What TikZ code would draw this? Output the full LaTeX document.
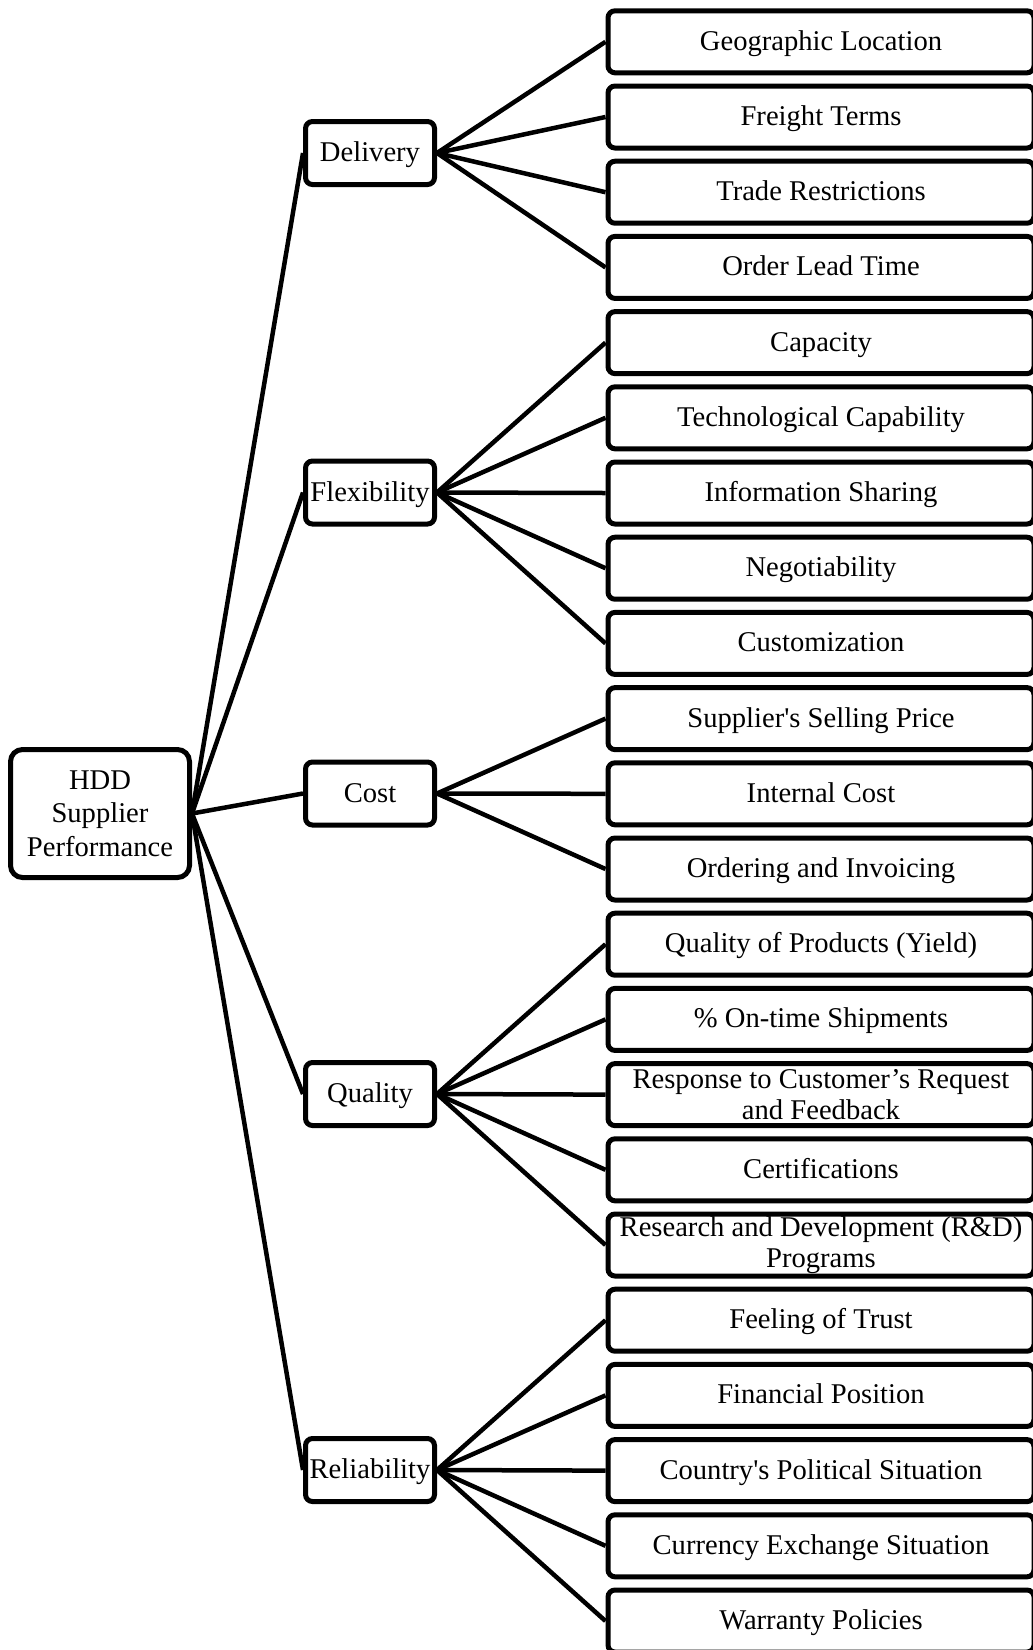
\documentclass[tikz,border=0pt]{standalone}
\usepackage{fontspec}
\newfontfamily\rfont{Liberation Serif}
\begin{document}
\begin{tikzpicture}[x=1pt,y=-1pt,
  box/.style={draw, line width=5pt, inner sep=0pt, align=center, fill=white,
    font=\rfont\fontsize{28.6}{30.5}\selectfont,
    execute at begin node={\rule{0pt}{24pt}}},
  sline/.style={execute at end node={\rule[-7pt]{0pt}{0pt}}},
  leaf/.style={box, rounded corners=7pt, minimum width=426pt, minimum height=62pt},
  mid/.style={box, sline, rounded corners=7pt, minimum width=129pt, minimum height=63pt},
  rootbox/.style={box, rounded corners=12pt, minimum width=179pt, minimum height=128pt,
    font=\rfont\fontsize{28.6}{33.5}\selectfont,
    execute at begin node={\rule{0pt}{30pt}}},
  link/.style={line width=4.5pt, line join=round}]
\useasboundingbox (0,0) rectangle (1033,1650);
\clip (0,0) rectangle (1033,1650);
% root
\node[rootbox] (root) at (100,813.5) {HDD\\Supplier\\Performance};
% middle
\node[mid] (del) at (370,153) {Delivery};
\node[mid] (flx) at (370,492.5) {Flexibility};
\node[mid] (cst) at (370,793.5) {Cost};
\node[mid] (qua) at (370,1094) {Quality};
\node[mid] (rel) at (370,1470) {Reliability};
% leaves (single line)
\foreach \i/\t in {1/Geographic Location, 2/Freight Terms, 3/Trade Restrictions,
  4/Order Lead Time, 5/Capacity, 6/Technological Capability, 7/Information Sharing,
  8/Negotiability, 9/Customization, 10/Supplier's Selling Price, 11/Internal Cost,
  12/Ordering and Invoicing, 13/Quality of Products (Yield), 14/\% On-time Shipments,
  16/Certifications, 18/Feeling of Trust,
  19/Financial Position, 20/Country's Political Situation,
  21/Currency Exchange Situation, 22/Warranty Policies}
  \node[leaf, sline] (l\i) at (821,{41.8+75.2*(\i-1)}) {\t};
% leaves (two lines)
\node[leaf] (l15) at (821,{41.8+75.2*14}) {Response to Customer’s Request\\and Feedback};
\node[leaf] (l17) at (821,{41.8+75.2*16}) {Research and Development (R\&D)\\Programs};
% root links
\foreach \m in {del,flx,cst,qua,rel}
  \draw[link] (root.east) -- (\m.west);
% middle links
\foreach \i in {1,...,4} \draw[link] (del.east) -- (l\i.west);
\foreach \i in {5,...,9} \draw[link] (flx.east) -- (l\i.west);
\foreach \i in {10,...,12} \draw[link] (cst.east) -- (l\i.west);
\foreach \i in {13,...,17} \draw[link] (qua.east) -- (l\i.west);
\foreach \i in {18,...,22} \draw[link] (rel.east) -- (l\i.west);
\end{tikzpicture}
\end{document}
